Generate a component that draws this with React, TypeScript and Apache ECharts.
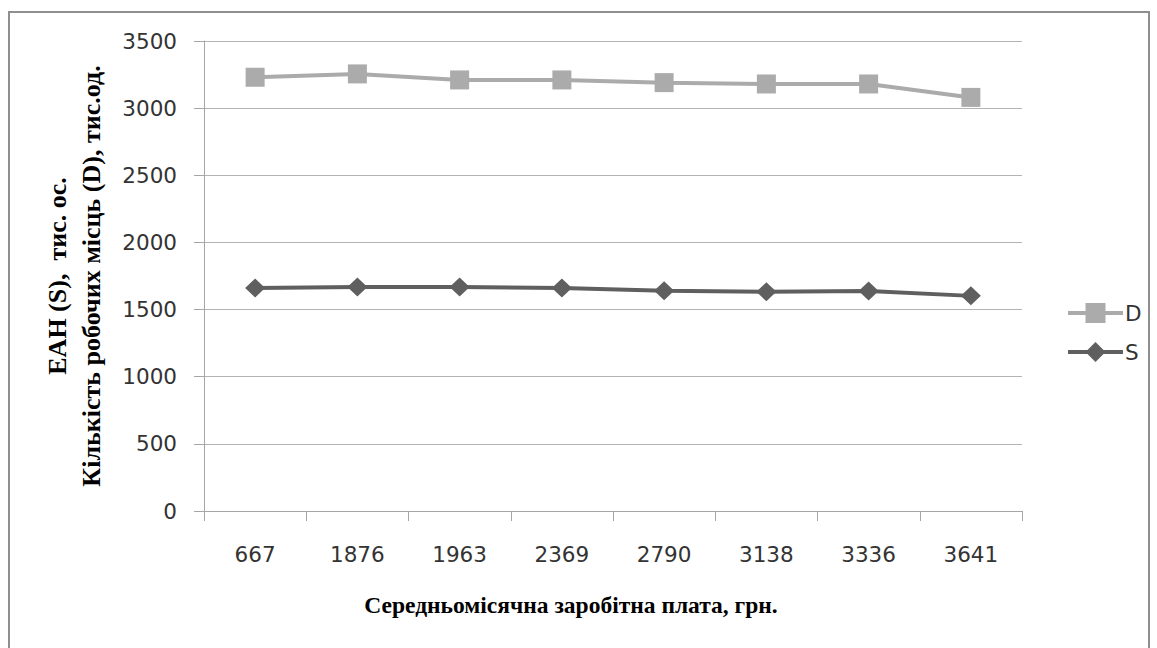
import React, { useEffect, useRef } from "react";
import * as echarts from "echarts";

const categories = ["667", "1876", "1963", "2369", "2790", "3138", "3336", "3641"];
const seriesD = [3230, 3255, 3210, 3210, 3190, 3180, 3180, 3080];
const seriesS = [1660, 1668, 1668, 1660, 1640, 1632, 1638, 1602];
const xTitle = "Середньомісячна заробітна плата, грн.";
const yTitleLines = ["ЕАН (S),  тис. ос.", "Кількість робочих місць (D), тис.од."];

export default function App() {
  const ref = useRef<HTMLDivElement>(null);
  useEffect(() => {
    if (!ref.current) return;
    const chart = echarts.init(ref.current, undefined, { renderer: "svg" });
    const labelFont = "DejaVu Sans";
    chart.setOption({
      animation: false,
      backgroundColor: "#ffffff",
      grid: { left: 204, right: 135, top: 41, bottom: 137, containLabel: false },
      xAxis: {
        type: "category",
        data: categories,
        boundaryGap: true,
        axisLine: { show: true, lineStyle: { color: "#a6a6a6", width: 1 } },
        axisTick: { show: true, length: 10, lineStyle: { color: "#a6a6a6" } },
        axisLabel: { color: "#333", fontFamily: labelFont, fontSize: 21.5, margin: 32 },
        splitLine: { show: false },
      },
      yAxis: {
        type: "value",
        min: 0,
        max: 3500,
        interval: 500,
        axisLine: { show: true, lineStyle: { color: "#a6a6a6", width: 1 } },
        axisTick: { show: true, length: 10, lineStyle: { color: "#a6a6a6" } },
        axisLabel: {
          color: "#333",
          fontFamily: labelFont,
          fontSize: 21.5,
          margin: 27,
          formatter: (v: number) => String(v),
        },
        splitLine: { show: true, lineStyle: { color: "#b3b3b3", width: 1 } },
      },
      legend: {
        orient: "vertical",
        left: 1061,
        top: 297,
        itemWidth: 55,
        itemHeight: 25,
        itemGap: 17,
        lineStyle: { width: 4 },
        textStyle: { color: "#333", fontFamily: labelFont, fontSize: 21.5, padding: [0, 0, 0, -3] },
        data: ["D", "S"],
      },
      series: [
        {
          name: "D",
          type: "line",
          data: seriesD,
          symbol: "rect",
          symbolSize: 19,
          lineStyle: { color: "#ababab", width: 4 },
          itemStyle: { color: "#ababab" },
        },
        {
          name: "S",
          type: "line",
          data: seriesS,
          symbol: "diamond",
          symbolSize: [20, 19],
          lineStyle: { color: "#5f5f5f", width: 4 },
          itemStyle: { color: "#5f5f5f" },
        },
      ],
      graphic: [
        {
          type: "rect",
          shape: { x: 9, y: 12, width: 1140, height: 650 },
          style: { fill: "none", stroke: "#8f8f8f", lineWidth: 2 },
          silent: true,
        },
        {
          type: "text",
          x: 571,
          y: 605,
          style: {
            text: xTitle,
            fontFamily: "Liberation Serif",
            fontWeight: "bold",
            fontSize: 23.5,
            fill: "#000",
            textAlign: "center",
            textVerticalAlign: "middle",
          },
        },
        {
          type: "text",
          x: 74,
          y: 276,
          rotation: Math.PI / 2,
          style: {
            text: yTitleLines.join("\n"),
            fontFamily: "Liberation Serif",
            fontWeight: "bold",
            fontSize: 26,
            lineHeight: 34,
            fill: "#000",
            textAlign: "center",
            textVerticalAlign: "middle",
          },
        },
      ],
    });
    return () => chart.dispose();
  }, []);
  return <div ref={ref} style={{ position: "fixed", left: 0, top: 0, width: 1157, height: 648 }} />;
}
